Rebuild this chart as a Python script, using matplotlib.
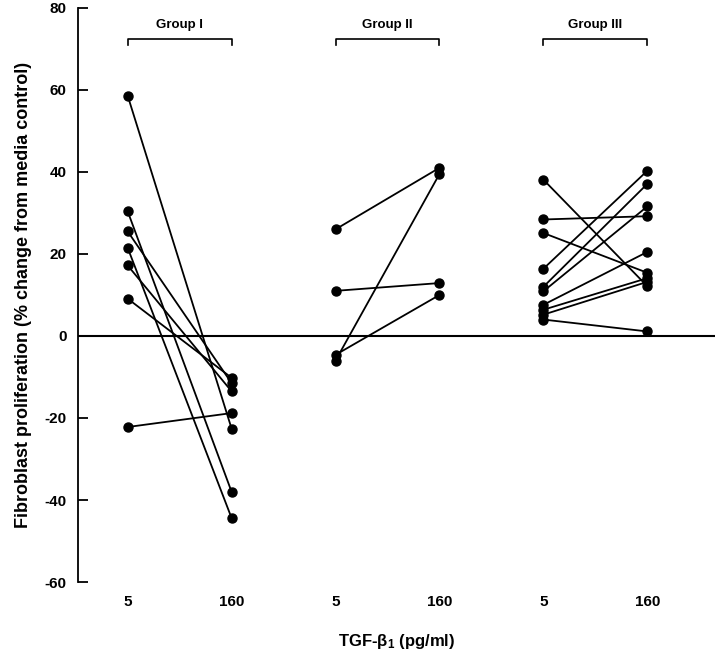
import matplotlib
matplotlib.use("Agg")
import matplotlib.pyplot as plt

plt.rcParams['font.family'] = ['Liberation Sans', 'DejaVu Sans']
plt.rcParams['font.weight'] = 'bold'
plt.rcParams['axes.unicode_minus'] = False
plt.rcParams['mathtext.fontset'] = 'custom'
plt.rcParams['mathtext.rm'] = 'Liberation Serif'
plt.rcParams['mathtext.it'] = 'Liberation Serif:italic'

# paired values: 5 pg/ml -> 160 pg/ml
group_names = ['Group I', 'Group II', 'Group III']
g1_low = [58.6, 30.4, 25.5, 21.5, 17.2, 9.1, -22.2]
g1_high = [-22.6, -38.0, -11.5, -44.4, -13.5, -10.2, -18.8]
g2_low = [26.0, 11.0, -4.6, -6.0]
g2_high = [41.0, 12.9, 10.0, 39.5]
g3_low = [38.1, 28.4, 25.1, 16.4, 12.0, 10.9, 7.6, 6.4, 5.2, 4.0]
g3_high = [12.1, 29.2, 15.4, 40.3, 37.1, 31.6, 20.5, 14.1, 13.2, 1.1]
dose_labels = ['5', '160', '5', '160', '5', '160']

groups = [(g1_low, g1_high), (g2_low, g2_high), (g3_low, g3_high)]

fig = plt.figure(figsize=(7.2, 6.54), dpi=100)
ax = fig.add_axes([0.108, 0.110, 0.885, 0.878])

for i, (lo, hi) in enumerate(groups):
    x0, x1 = 2 * i, 2 * i + 1
    for a, b in zip(lo, hi):
        ax.plot([x0, x1], [a, b], color='black', lw=1.3, marker='o',
                ms=6.5, mfc='black', mec='black', clip_on=False)
    # bracket + label
    ax.plot([x0, x0, x1, x1], [71.0, 72.3, 72.3, 71.0], color='black',
            lw=1.2, clip_on=False)
    ax.text((x0 + x1) / 2, 75.8, group_names[i], ha='center', va='center',
            fontsize=9.5, fontweight='bold')

ax.axhline(0, color='black', lw=1.5)

ax.set_xlim(-0.48, 5.65)
ax.set_ylim(-60, 80)
ax.set_yticks(range(-60, 81, 20))
ax.set_xticks(range(6))
ax.set_xticklabels(dose_labels)

for s in ['top', 'right', 'bottom']:
    ax.spines[s].set_visible(False)
ax.spines['left'].set_linewidth(1.3)

ax.tick_params(axis='y', direction='in', length=7, width=1.3, pad=8,
               labelsize=11)
ax.tick_params(axis='x', length=0, pad=9, labelsize=11)
for lab in ax.get_xticklabels() + ax.get_yticklabels():
    lab.set_fontweight('bold')

ax.set_ylabel('Fibroblast proliferation (% change from media control)',
              fontsize=13, fontweight='bold', labelpad=9)
ax.set_xlabel(r'TGF-$\mathregular{\beta_1}$ (pg/ml)', fontsize=12,
              fontweight='bold', labelpad=17)

fig.savefig('out.png', dpi=100)
